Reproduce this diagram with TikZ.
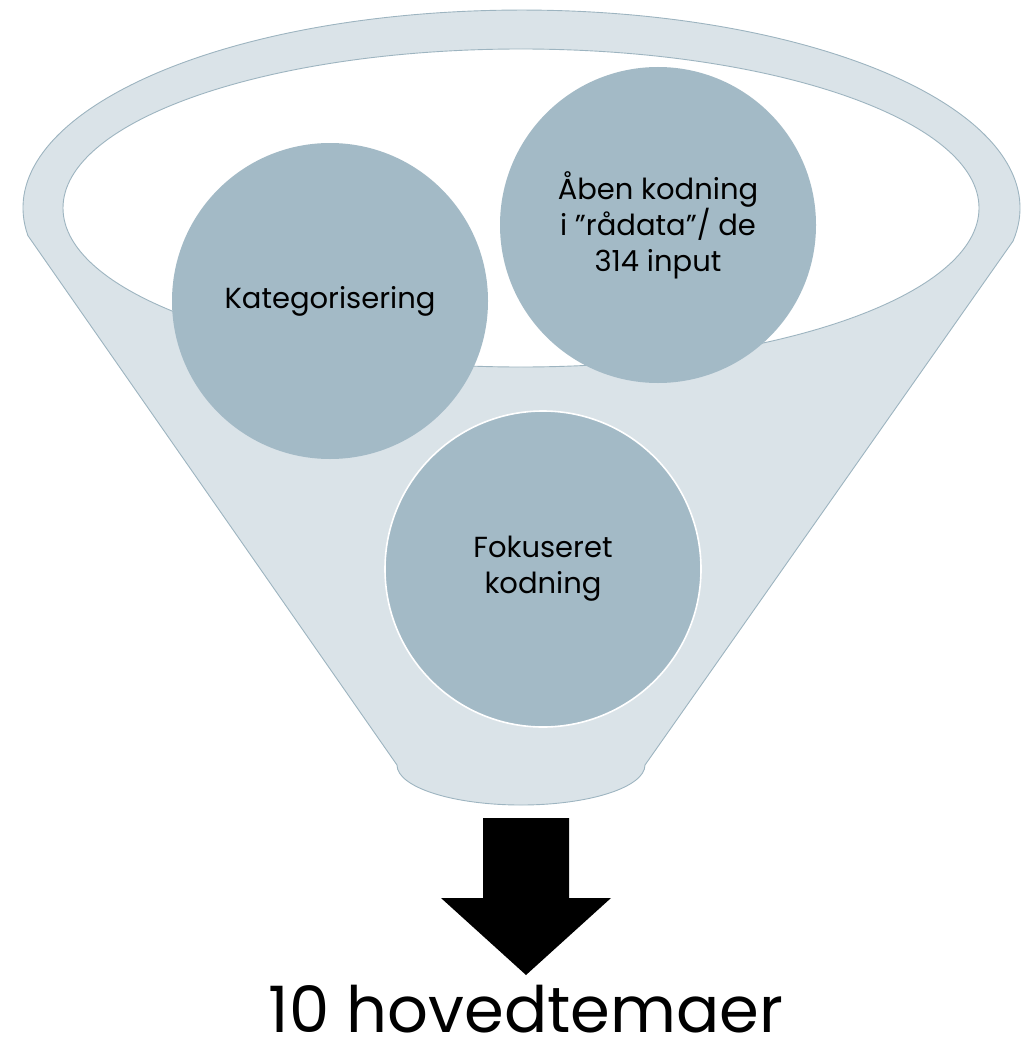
\documentclass[tikz,border=0pt]{standalone}
\usepackage{fontspec}
\setmainfont{Poppins}
\definecolor{funnelfill}{HTML}{DAE3E8}
\definecolor{funnelline}{HTML}{9DB4C0}
\definecolor{bubblefill}{HTML}{A3BAC6}
\tikzset{
  funnel/.style={fill=funnelfill, draw=funnelline, line width=0.9pt},
  bubble/.style={circle, fill=bubblefill, minimum size=316pt, inner sep=0pt, align=center,
    font=\fontsize{29}{36}\selectfont, text=black},
  bigarrow/.style={fill=black, draw=none}
}
\begin{document}
\begin{tikzpicture}[x=1pt,y=-1pt]
\useasboundingbox (0,0) rectangle (1028,1038);
% funnel body
\draw[funnel] (27.9,235.6) arc[start angle=172, end angle=369.6, x radius=498.5, y radius=198]
  -- (645,765) arc[start angle=0, end angle=180, x radius=124, y radius=40] -- cycle;
% opening
\draw[fill=white, draw=funnelline, line width=0.9pt] (521,208) ellipse[x radius=458, y radius=159];
% bubbles
\node[bubble] (kat) at (330,301) {Kategorisering};
\node[bubble] (aaben) at (658,225) {Åben kodning\\i ”rådata”/ de\\314 input};
\node[bubble, draw=white, line width=1.6pt] (fok) at (543,569) {Fokuseret\\kodning};
% arrow
\coordinate (a1) at (483,818);
\coordinate (a2) at (569,818);
\coordinate (a3) at (569,898);
\coordinate (a4) at (611,898);
\coordinate (tip) at (526,975);
\coordinate (a6) at (441,898);
\coordinate (a7) at (483,898);
\fill[bigarrow] (a1) -- (a2) -- (a3) -- (a4) -- (tip) -- (a6) -- (a7) -- cycle;
\node[anchor=base, inner sep=0pt, font=\fontsize{64}{70}\selectfont] (res) at (526,1032) {10 hovedtemaer};
\end{tikzpicture}
\end{document}
